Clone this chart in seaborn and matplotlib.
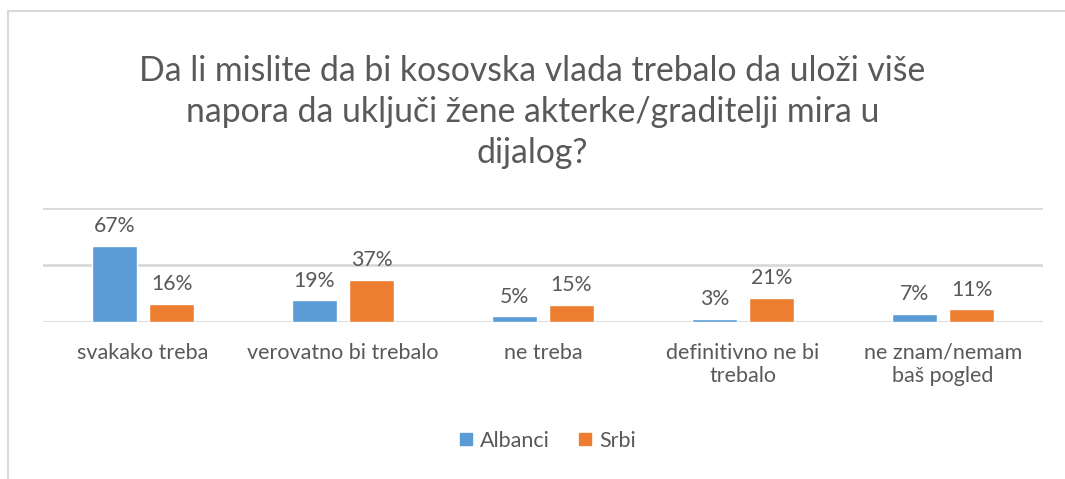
import pandas as pd
import matplotlib.pyplot as plt
import seaborn as sns
from matplotlib.lines import Line2D

# podaci
kategorije = ['svakako treba', 'verovatno bi trebalo', 'ne treba',
              'definitivno ne bi\ntrebalo', 'ne znam/nemam\nbaš pogled']
albanci = [67, 19, 5, 3, 7]
srbi = [16, 37, 15, 21, 11]
naslov = 'Da li mislite da bi kosovska vlada trebalo da uloži više\nnapora da uključi žene akterke/graditelji mira u\ndijalog?'

df = pd.DataFrame({
    'kategorija': kategorije * 2,
    'grupa': ['Albanci'] * 5 + ['Srbi'] * 5,
    'vrednost': albanci + srbi,
})

sns.set_theme(style='white')
plt.rcParams['font.family'] = ['Lato', 'DejaVu Sans']
siva = '#595959'
boje = ['#5B9BD5', '#ED7D31']

fig = plt.figure(figsize=(10.65, 4.79), dpi=100)
ax = fig.add_axes([43 / 1065, 1 - 322 / 479, 1000 / 1065, 114 / 479])

sns.barplot(data=df, x='kategorija', y='vrednost', hue='grupa',
            palette=boje, saturation=1, width=0.57, gap=0.21,
            ax=ax, legend=False, zorder=3)

ax.set_ylim(0, 100)
ax.set_yticks([0, 50, 100])
ax.yaxis.grid(True, color='#D9D9D9', linewidth=2, zorder=0)
ax.set_yticklabels([])
ax.tick_params(axis='y', length=0)
ax.tick_params(axis='x', length=0, labelsize=15.5, labelcolor=siva, pad=15)
ax.set_xlabel('')
ax.set_ylabel('')
for s in ax.spines.values():
    s.set_visible(False)
ax.set_xlim(-0.5, 4.5)

# oznake vrednosti
for cont in ax.containers:
    for bar in cont:
        h = bar.get_height()
        ax.annotate(f'{h:.0f}%', (bar.get_x() + bar.get_width() / 2, h),
                    xytext=(0, 7), textcoords='offset points',
                    ha='center', va='bottom', fontsize=15.3, color=siva)

fig.text(0.5, 1 - 112 / 479, naslov, ha='center', va='center',
         fontsize=24.3, color=siva, linespacing=1.36)

# legenda
h = [Line2D([], [], marker='s', linestyle='', markersize=9, color=c) for c in boje]
fig.legend(h, ['Albanci', 'Srbi'], loc='center', bbox_to_anchor=(547 / 1065, 1 - 441 / 479),
           ncol=2, frameon=False, fontsize=15.5, labelcolor=siva,
           handlelength=0.7, handletextpad=0.3, columnspacing=1.3)

# okvir
fig.add_artist(Line2D([8 / 1065, 8 / 1065], [0, 1 - 11 / 479], color='#D9D9D9', linewidth=1.5))
fig.add_artist(Line2D([8 / 1065, 1], [1 - 11 / 479, 1 - 11 / 479], color='#D9D9D9', linewidth=1.5))

fig.savefig('out.png', dpi=100, facecolor='white')
